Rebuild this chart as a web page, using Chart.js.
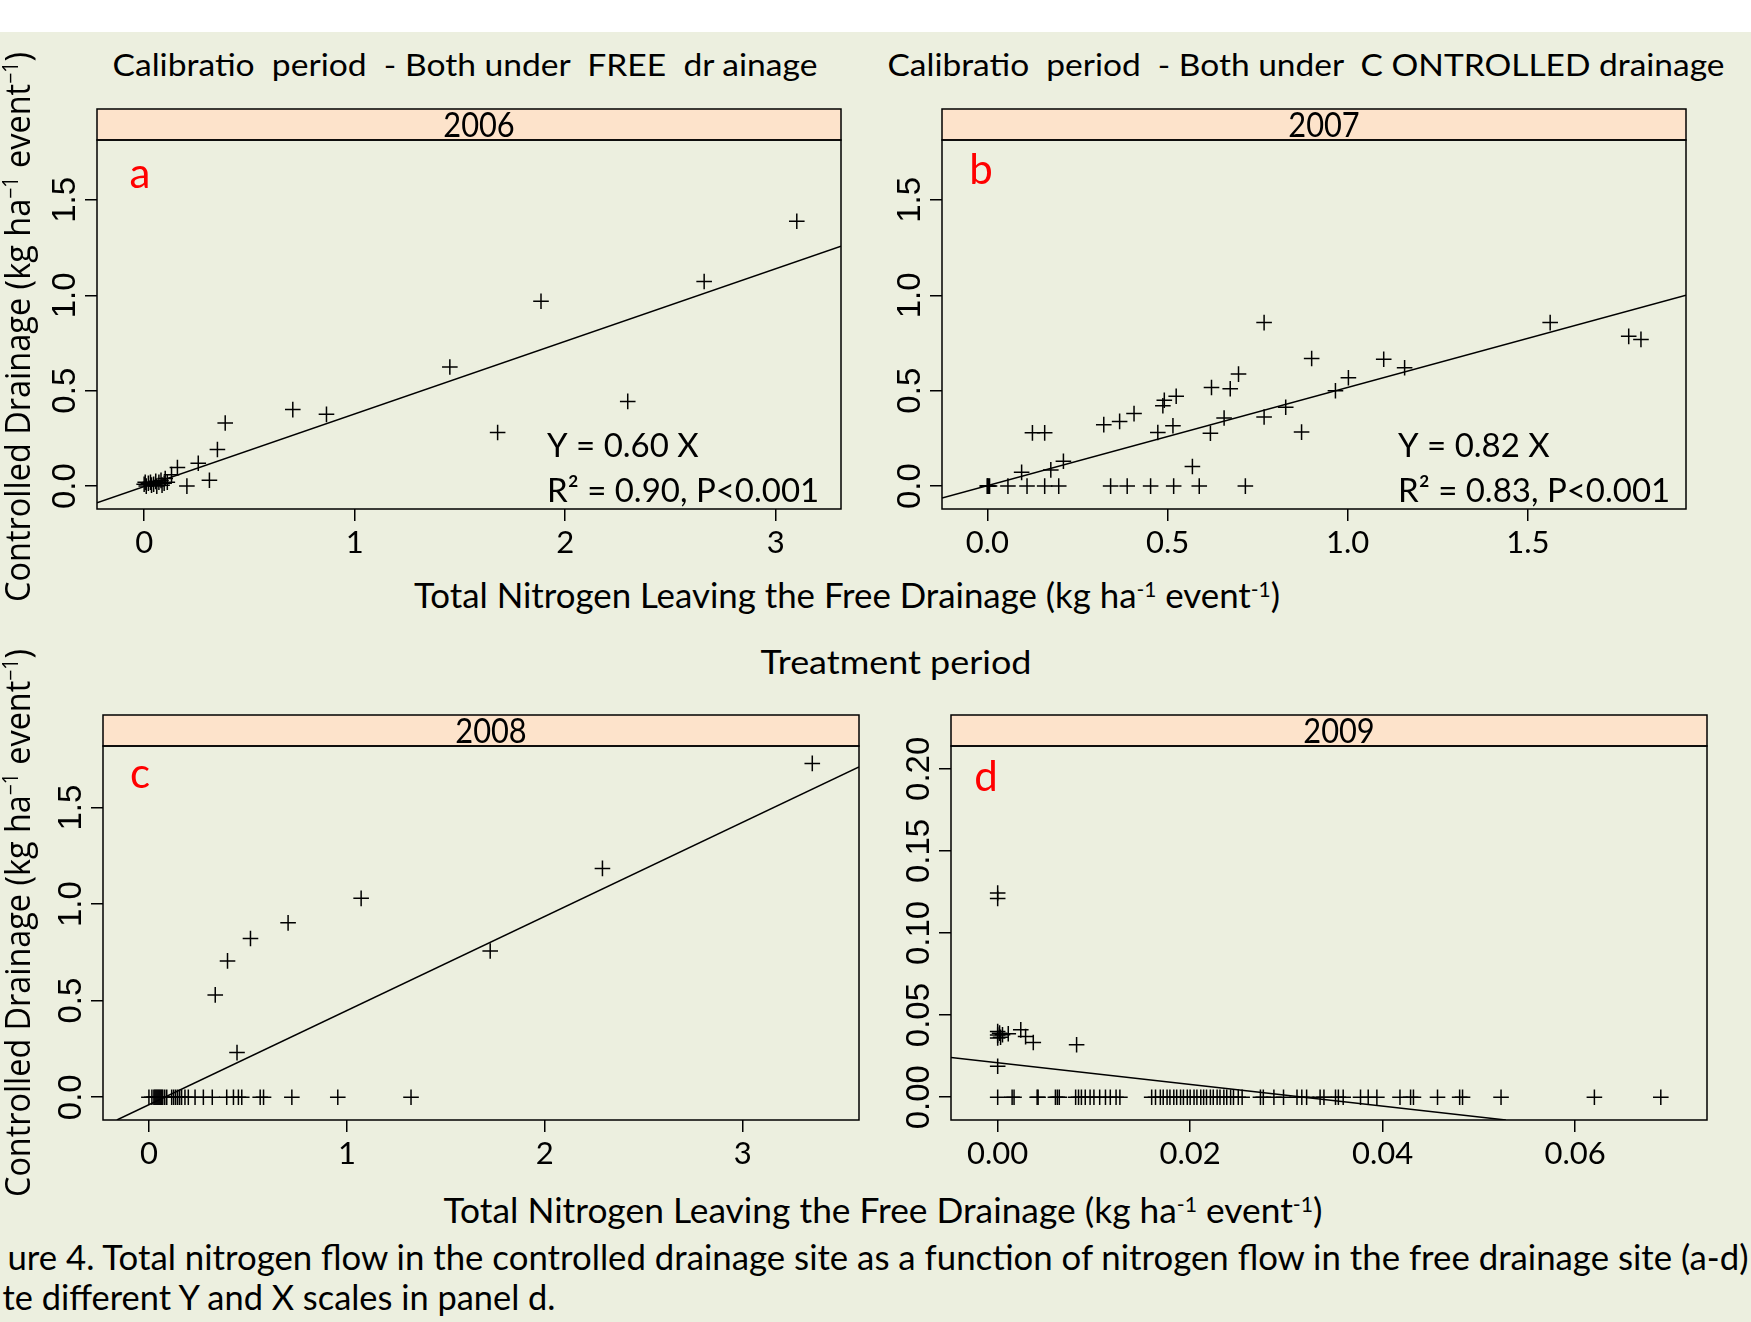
<!DOCTYPE html>
<html>
<head>
<meta charset="utf-8">
<script src="https://cdn.jsdelivr.net/npm/chart.js@4.4.1/dist/chart.umd.min.js"></script>
<style>
  body { margin: 0; width: 1751px; height: 1322px; background: #ECEFDF; position: relative; overflow: hidden; }
  #band { position: absolute; left: 0; top: 0; width: 1751px; height: 32px; background: #fff; }
  canvas { position: absolute; }
  .txt { position: absolute; white-space: pre; line-height: 1; color: #000; font-family: Lato, sans-serif; }
  .sup { font-size: 0.6em; position: relative; top: -0.55em; }
</style>
</head>
<body>
<div id="band"></div>
<canvas id="p2006"></canvas>
<canvas id="p2007"></canvas>
<canvas id="p2008"></canvas>
<canvas id="p2009"></canvas>
<script>
// ---- data (kg ha-1 event-1) ----
const years = ["2006", "2007", "2008", "2009"];
const panelLetters = ["a", "b", "c", "d"];

const free2006 = [3.10, 2.66, 1.885, 1.452, 2.297, 1.679, 0.706, 0.866, 0.385, 0.348, 0.257, 0.158, 0.310, 0.203, 0.13,
    0.0, 0.005, 0.01, 0.02, 0.03, 0.035, 0.045, 0.055, 0.06, 0.07, 0.08, 0.085, 0.095, 0.1, 0.11];
const ctrl2006 = [1.388, 1.072, 0.969, 0.624, 0.444, 0.281, 0.401, 0.376, 0.331, 0.192, 0.120, 0.097, 0.031, 0.0, 0.06,
    0.01, 0.02, 0.0, 0.015, 0.02, 0.005, 0.01, 0.025, 0.0, 0.02, 0.03, 0.005, 0.015, 0.04, 0.02];

const free2007 = [0.768, 1.562, 1.780, 1.814, 0.900, 1.100, 1.158, 1.002, 0.966, 0.697, 0.622, 0.674, 0.524, 0.491, 0.487,
    0.828, 0.407, 0.367, 0.323, 0.515, 0.657, 0.768, 0.473, 0.619, 0.872, 0.125, 0.159, 0.569, 0.211, 0.176, 0.095,
    0.0, 0.0, 0.003, 0.006, 0.057, 0.110, 0.159, 0.198, 0.342, 0.388, 0.453, 0.517, 0.588, 0.716];
const ctrl2007 = [0.857, 0.857, 0.785, 0.769, 0.669, 0.665, 0.620, 0.568, 0.500, 0.587, 0.517, 0.510, 0.471, 0.450, 0.421,
    0.413, 0.380, 0.339, 0.322, 0.316, 0.357, 0.362, 0.281, 0.277, 0.283, 0.279, 0.279, 0.103, 0.130, 0.085, 0.072,
    0, 0, 0, 0, 0, 0, 0, 0, 0, 0, 0, 0, 0, 0];

const free2008 = [3.351, 2.291, 1.072, 0.703, 0.513, 0.397, 0.335, 1.724, 0.445,
    0.0, 0.015, 0.025, 0.03, 0.035, 0.04, 0.045, 0.05, 0.055, 0.06, 0.065, 0.07, 0.08, 0.09, 0.115, 0.125, 0.135,
    0.145, 0.155, 0.165, 0.182, 0.199, 0.233, 0.275, 0.320, 0.393, 0.427, 0.452, 0.469, 0.562, 0.579, 0.722, 0.954, 1.324];
const ctrl2008 = [1.729, 1.185, 1.030, 0.903, 0.822, 0.706, 0.530, 0.757, 0.231,
    0, 0, 0, 0, 0, 0, 0, 0, 0, 0, 0, 0, 0, 0, 0, 0, 0,
    0, 0, 0, 0, 0, 0, 0, 0, 0, 0, 0, 0, 0, 0, 0, 0, 0];

const free2009 = [0, 0, 0, 0, 0.0002, 0.0003, 0.0005, 0, 0.0011, 0.0024, 0.0029, 0.0037, 0.0082, 0,
    0, 0.0015, 0.0017, 0.0041, 0.0042, 0.0060, 0.0062, 0.0064, 0.0081, 0.0084, 0.0087, 0.0091, 0.0096, 0.0100,
    0.0106, 0.0112, 0.0117, 0.0123, 0.0127, 0.0160, 0.0164, 0.0169, 0.0172, 0.0176, 0.0179, 0.0183, 0.0186,
    0.0190, 0.0193, 0.0197, 0.0200, 0.0204, 0.0207, 0.0211, 0.0214, 0.0217, 0.0221, 0.0224, 0.0228, 0.0231,
    0.0235, 0.0238, 0.0242, 0.0245, 0.0250, 0.0254, 0.0273, 0.0276, 0.0287, 0.0297, 0.0311, 0.0316, 0.0321,
    0.0335, 0.0339, 0.0351, 0.0354, 0.0359, 0.0377, 0.0385, 0.0394, 0.0418, 0.0429, 0.0432, 0.0457, 0.0480,
    0.0483, 0.0523, 0.0620, 0.0689];
const ctrl2009 = [0.1244, 0.121, 0.0378, 0.036, 0.039, 0.0365, 0.038, 0.040, 0.0386, 0.041, 0.0369, 0.0333, 0.0319, 0.0188,
    0, 0, 0, 0, 0, 0, 0, 0, 0, 0, 0, 0, 0, 0,
    0, 0, 0, 0, 0, 0, 0, 0, 0, 0, 0, 0, 0,
    0, 0, 0, 0, 0, 0, 0, 0, 0, 0, 0, 0, 0,
    0, 0, 0, 0, 0, 0, 0, 0, 0, 0, 0, 0, 0,
    0, 0, 0, 0, 0, 0, 0, 0, 0, 0, 0, 0, 0,
    0, 0, 0, 0];

// fitted lines as drawn (end points, data units)
const fitX2006 = [-0.224, 3.31];   const fitY2006 = [-0.087, 1.257];
const fitX2007 = [-0.126, 1.939];  const fitY2007 = [-0.062, 1.0];
const fitX2008 = [-0.162, 3.587];  const fitY2008 = [-0.118, 1.711];
const fitX2009 = [-0.00485, 0.0528]; const fitY2009 = [0.0242, -0.0139];

const eqLines2006 = ["Y = 0.60 X", "R\u00B2 = 0.90, P<0.001"];
const eqLines2007 = ["Y = 0.82 X", "R\u00B2 = 0.83, P<0.001"];

// tick values and labels
const xTicks13 = [0, 1, 2, 3];          const xLabels13 = ["0", "1", "2", "3"];
const xTicks2007 = [0, 0.5, 1, 1.5];    const xLabels2007 = ["0.0", "0.5", "1.0", "1.5"];
const xTicks2009 = [0, 0.02, 0.04, 0.06]; const xLabels2009 = ["0.00", "0.02", "0.04", "0.06"];
const yTicksMain = [0, 0.5, 1, 1.5];    const yLabelsMain = ["0.0", "0.5", "1.0", "1.5"];
const yTicks2009 = [0, 0.05, 0.1, 0.15, 0.2]; const yLabels2009 = ["0.00", "0.05", "0.10", "0.15", "0.20"];

// ---- layout ----
const Y_AXIS_W = 70, PAD_TOP = 40, PAD_RIGHT = 12, X_AXIS_H = 60, STRIP_H = 31;

const panels = [
    { id: "p2006", box: [97, 140, 841, 509], xs: free2006, ys: ctrl2006, fx: fitX2006, fy: fitY2006,
      xr: [-0.224, 3.31], yr: [-0.12, 1.814], xt: xTicks13, xl: xLabels13, yt: yTicksMain, yl: yLabelsMain,
      year: years[0], letter: panelLetters[0], letterOff: [43, 34], eq: eqLines2006, eqOff: -294 },
    { id: "p2007", box: [942, 140, 1686, 509], xs: free2007, ys: ctrl2007, fx: fitX2007, fy: fitY2007,
      xr: [-0.126, 1.939], yr: [-0.12, 1.814], xt: xTicks2007, xl: xLabels2007, yt: yTicksMain, yl: yLabelsMain,
      year: years[1], letter: panelLetters[1], letterOff: [39, 30], eq: eqLines2007, eqOff: -288 },
    { id: "p2008", box: [103, 746, 859, 1120], xs: free2008, ys: ctrl2008, fx: fitX2008, fy: fitY2008,
      xr: [-0.232, 3.587], yr: [-0.118, 1.819], xt: xTicks13, xl: xLabels13, yt: yTicksMain, yl: yLabelsMain,
      year: years[2], letter: panelLetters[2], letterOff: [37, 28], eq: null },
    { id: "p2009", box: [951, 746, 1707, 1120], xs: free2009, ys: ctrl2009, fx: fitX2009, fy: fitY2009,
      xr: [-0.00485, 0.0737], yr: [-0.0139, 0.2139], xt: xTicks2009, xl: xLabels2009, yt: yTicks2009, yl: yLabels2009,
      year: years[3], letter: panelLetters[3], letterOff: [35, 31], eq: null }
];

Chart.defaults.font.family = "Lato";
Chart.defaults.color = "#000";

const panelDecor = {
    id: "panelDecor",
    afterDraw(chart, args, opts) {
        const { ctx, chartArea: a } = chart;
        const p = opts.panel;
        const w = a.right - a.left;
        ctx.save();
        ctx.lineWidth = 1.5;
        ctx.strokeStyle = "#000";
        // strip
        ctx.fillStyle = "#FDE3CB";
        ctx.fillRect(a.left, a.top - STRIP_H, w, STRIP_H);
        ctx.strokeRect(a.left, a.top - STRIP_H, w, STRIP_H);
        ctx.fillStyle = "#000";
        ctx.textAlign = "center";
        ctx.textBaseline = "middle";
        ctx.save();
        ctx.translate((a.left + a.right) / 2 + 10, a.top - STRIP_H / 2 + 1);
        ctx.scale(0.88, 1);
        ctx.font = "35px Lato";
        ctx.fillText(p.year, 0, 0);
        ctx.restore();
        // plot box
        ctx.strokeRect(a.left, a.top, w, a.bottom - a.top);
        // rotated y tick labels
        const ys = chart.scales.y;
        ctx.font = '33px "Liberation Sans"';
        ys.ticks.forEach((t, i) => {
            ctx.save();
            ctx.translate(a.left - 31, ys.getPixelForValue(t.value));
            ctx.rotate(-Math.PI / 2);
            ctx.fillText(p.yl[i], 0, 0);
            ctx.restore();
        });
        // panel letter
        ctx.fillStyle = "#FF0000";
        ctx.font = "42px Lato";
        ctx.fillText(p.letter, a.left + p.letterOff[0], a.top + p.letterOff[1]);
        // regression text
        if (p.eq) {
            ctx.fillStyle = "#000";
            ctx.font = "33px Lato";
            ctx.textAlign = "left";
            ctx.textBaseline = "alphabetic";
            ctx.fillText(p.eq[0], a.right + p.eqOff, a.bottom - 52);
            ctx.fillText(p.eq[1], a.right + p.eqOff, a.bottom - 7);
        }
        ctx.restore();
    }
};

panels.forEach(p => {
    const cv = document.getElementById(p.id);
    const left = p.box[0] - Y_AXIS_W, top = p.box[1] - PAD_TOP;
    cv.width = p.box[2] - p.box[0] + Y_AXIS_W + PAD_RIGHT;
    cv.height = p.box[3] - p.box[1] + PAD_TOP + X_AXIS_H;
    cv.style.left = left + "px";
    cv.style.top = top + "px";

    new Chart(cv, {
        type: "scatter",
        data: {
            datasets: [
                {
                    data: p.xs.map((x, i) => ({ x: x, y: p.ys[i] })),
                    pointStyle: "cross",
                    pointRadius: 7.8,
                    pointBorderWidth: 1.5,
                    borderColor: "#000",
                    backgroundColor: "#000"
                },
                {
                    data: p.fx.map((x, i) => ({ x: x, y: p.fy[i] })),
                    showLine: true,
                    pointRadius: 0,
                    borderColor: "#000",
                    borderWidth: 1.5
                }
            ]
        },
        options: {
            responsive: false,
            animation: false,
            devicePixelRatio: 1,
            layout: { padding: { top: PAD_TOP, right: PAD_RIGHT, left: 0, bottom: 0 } },
            plugins: { legend: { display: false }, tooltip: { enabled: false }, panelDecor: { panel: p } },
            scales: {
                x: {
                    type: "linear",
                    min: p.xr[0], max: p.xr[1],
                    afterBuildTicks: s => { s.ticks = p.xt.map(v => ({ value: v })); },
                    afterFit: s => { s.height = X_AXIS_H; },
                    border: { display: false },
                    grid: { drawOnChartArea: false, drawTicks: true, tickLength: 12, color: "#000", lineWidth: 1.5 },
                    ticks: { callback: (v, i) => p.xl[i], font: { family: "Lato", size: 31 }, padding: 3, maxRotation: 0, autoSkip: false }
                },
                y: {
                    type: "linear",
                    min: p.yr[0], max: p.yr[1],
                    afterBuildTicks: s => { s.ticks = p.yt.map(v => ({ value: v })); },
                    afterFit: s => { s.width = Y_AXIS_W; },
                    border: { display: false },
                    grid: { drawOnChartArea: false, drawTicks: true, tickLength: 12, color: "#000", lineWidth: 1.5 },
                    ticks: { display: false, autoSkip: false }
                }
            }
        },
        plugins: [panelDecor]
    });
});

// ---- page text ----
function addText(html, cx, cy, size, width, family, rotate) {
    const el = document.createElement("div");
    el.className = "txt";
    el.innerHTML = html;
    el.style.fontSize = size + "px";
    if (family) el.style.fontFamily = family;
    document.body.appendChild(el);
    const k = width / el.getBoundingClientRect().width;
    el.style.left = cx + "px";
    el.style.top = cy + "px";
    el.style.transform = "translate(-50%,-50%) " + (rotate ? "rotate(-90deg) " : "") + "scaleX(" + k.toFixed(4) + ")";
}

const unitX = ' (kg ha<span class="sup">-1</span> event<span class="sup">-1</span>)';
const unitY = ' (kg ha<span class="sup">\u22121</span> event<span class="sup">\u22121</span>)';

addText("Calibratio  period  - Both under  FREE  dr ainage", 464.5, 64, 31, 705);
addText("Calibratio  period  - Both under  C ONTROLLED drainage", 1305.5, 64, 31, 837);
addText("Total Nitrogen Leaving the Free Drainage" + unitX, 847, 595, 34, 866);
addText("Treatment period", 895.5, 661, 33, 271);
addText("Total Nitrogen Leaving the Free Drainage" + unitX, 882.5, 1210, 34, 879);
addText("ure 4. Total nitrogen flow in the controlled drainage site as a function of nitrogen flow in the free drainage site (a-d)", 877.5, 1256, 35, 1741);
addText("te different Y and X scales in panel d.", 278.5, 1296, 35, 553);
addText("Controlled Drainage" + unitY, 16, 327, 35, 550, "'Open Sans'", true);
addText("Controlled Drainage" + unitY, 16, 923, 35, 548, "'Open Sans'", true);
</script>
</body>
</html>
